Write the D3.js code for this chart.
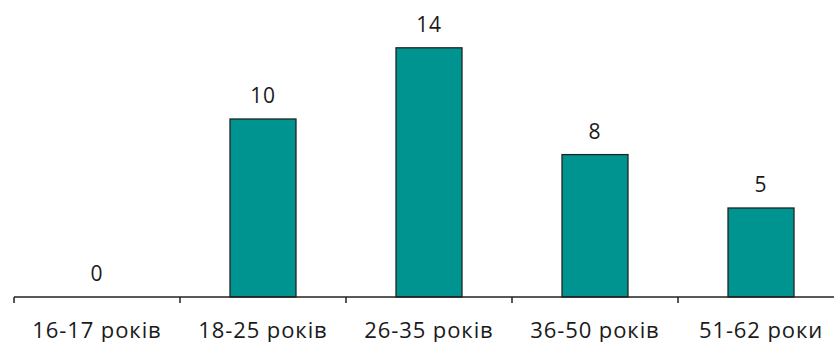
<!DOCTYPE html>
<html><head><meta charset="utf-8">
<script src="https://cdn.jsdelivr.net/npm/d3@7"></script>
<style>body{margin:0;background:#fff}svg{display:block}text{font-family:"Open Sans","Noto Sans",sans-serif;fill:#1a1a1a}</style>
</head><body><svg id="c" width="834" height="342"></svg>
<script>
const categories = ["16-17 років","18-25 років","26-35 років","36-50 років","51-62 роки"];
const values = [0,10,14,8,5];

const svg = d3.select("#c");
const baseY = 297;
const x = d3.scaleBand().domain(categories).range([14, 844]).paddingInner(0).paddingOuter(0);
const y = d3.scaleLinear().domain([0, 10]).range([baseY, 119]);
const bw = 66;

svg.selectAll("rect.bar").data(values).enter().append("rect")
  .attr("class","bar")
  .attr("x",(d,i)=>x(categories[i]) + x.bandwidth()/2 - bw/2)
  .attr("y",d=>y(d))
  .attr("width",bw)
  .attr("height",d=>baseY - y(d))
  .attr("fill","#009490")
  .attr("stroke","#222")
  .attr("stroke-width",1.3)
  .style("display",d=>d>0?null:"none");

svg.selectAll("text.val").data(values).enter().append("text")
  .attr("class","val")
  .attr("x",(d,i)=>x(categories[i]) + x.bandwidth()/2)
  .attr("y",d=>y(d) - 16)
  .attr("text-anchor","middle")
  .attr("font-size",21)
  .attr("letter-spacing",0.8)
  .text(d=>d);

// axis
svg.append("line").attr("x1",14).attr("x2",834).attr("y1",baseY).attr("y2",baseY)
  .attr("stroke","#222").attr("stroke-width",1.5);
svg.selectAll("line.tick").data(categories).enter().append("line")
  .attr("class","tick")
  .attr("x1",d=>x(d)).attr("x2",d=>x(d))
  .attr("y1",baseY).attr("y2",baseY+6)
  .attr("stroke","#222").attr("stroke-width",1.5);

svg.selectAll("text.cat").data(categories).enter().append("text")
  .attr("class","cat")
  .attr("x",d=>x(d)+x.bandwidth()/2)
  .attr("y",338)
  .attr("text-anchor","middle")
  .attr("font-size",22)
  .attr("letter-spacing",0.9)
  .text(d=>d);
</script></body></html>
